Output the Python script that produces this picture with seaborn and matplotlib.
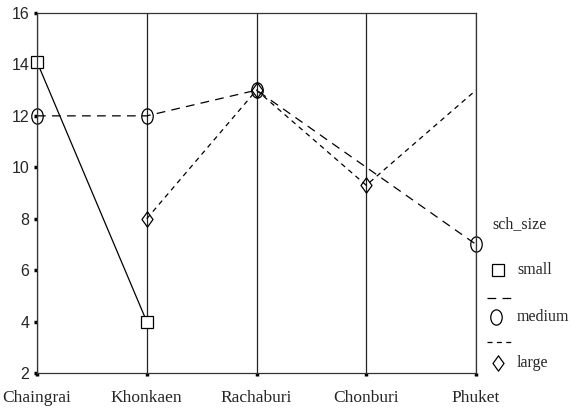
import numpy as np
import pandas as pd
import matplotlib
matplotlib.use("Agg")
import matplotlib.pyplot as plt
from matplotlib.lines import Line2D
from matplotlib.path import Path
import seaborn as sns

# data
cities = ["Chaingrai", "Khonkaen", "Rachaburi", "Chonburi", "Phuket"]
small = [14.1, 4.0, np.nan, np.nan, np.nan]
medium = [12.0, 12.0, 13.0, np.nan, 7.0]
large = [np.nan, 8.0, 13.0, 9.3, 13.0]
y_ticks = [2, 4, 6, 8, 10, 12, 14, 16]

sns.set_theme(style="white")
serif = ["Liberation Serif", "DejaVu Serif"]
sans = ["Liberation Sans", "DejaVu Sans"]

# ellipse and diamond markers, taller than wide, as in the reference
ell = Path.unit_circle()
ellipse = Path(ell.vertices * np.array([0.75, 1.0]), ell.codes)
diamond = Path([(0, 1), (0.72, 0), (0, -1), (-0.72, 0), (0, 1)],
               [Path.MOVETO, Path.LINETO, Path.LINETO, Path.LINETO, Path.CLOSEPOLY])

fig = plt.figure(figsize=(5.88, 4.08), dpi=100)
ax = fig.add_axes([37 / 588, 35 / 408, (476 - 37) / 588, (373 - 13) / 408])

pos = np.arange(len(cities))
df = pd.DataFrame({"x": pos, "small": small, "medium": medium, "large": large})

d = df[["x", "small"]].dropna()
sns.lineplot(data=d, x="x", y="small", ax=ax, color="black", lw=0.9, clip_on=False,
             linestyle="-", marker="s", ms=8, mfc="white", mec="black", mew=0.9)

d = df[["x", "medium"]].dropna()
sns.lineplot(data=d, x="x", y="medium", ax=ax, color="black", lw=0.9, clip_on=False,
             linestyle=(0, (7, 5)), marker=ellipse, ms=11, mfc="none", mec="black", mew=0.9)

d = df[["x", "large"]].dropna()
sns.lineplot(data=d, x="x", y="large", ax=ax, color="black", lw=0.9, clip_on=False,
             linestyle=(0, (4, 3.5)), marker=diamond, ms=11, mfc="none", mec="black", mew=0.9,
             markevery=[0, 1, 2])

ax.set_xlim(0, len(cities) - 1)
ax.set_ylim(2, 16)
ax.set_xticks(pos)
ax.set_xticklabels(cities, fontfamily=serif, fontsize=12.5)
ax.set_yticks(y_ticks)
ax.set_yticklabels([str(t) for t in y_ticks], fontfamily=sans, fontsize=11.5)
ax.set_xlabel("")
ax.set_ylabel("")
ax.tick_params(axis="both", direction="out", length=2.5, width=2.5, color="black",
               bottom=True, left=True)
ax.tick_params(axis="y", pad=3)
ax.tick_params(axis="x", pad=10)
ax.xaxis.grid(True, color="#222222", lw=0.9)
ax.yaxis.grid(False)
for s in ax.spines.values():
    s.set_color("#333333")
    s.set_linewidth(0.9)
if ax.get_legend():
    ax.get_legend().remove()

# legend drawn the way the reference lays it out
def fx(px):
    return px / 588

def fy(py):
    return 1 - py / 408

fs = 11.5
fig.text(fx(492), fy(224), "sch_size", fontfamily=serif, fontsize=fs, va="center")
fig.add_artist(Line2D([fx(498)], [fy(270)], transform=fig.transFigure, marker="s", ms=8,
                      mfc="white", mec="black", mew=0.9, ls="none"))
fig.text(fx(517), fy(270), "small", fontfamily=serif, fontsize=fs, va="center")
fig.add_artist(Line2D([fx(487), fx(513)], [fy(298), fy(298)], transform=fig.transFigure,
                      color="black", lw=0.9, ls=(0, (7, 5))))
fig.add_artist(Line2D([fx(496)], [fy(317)], transform=fig.transFigure, marker=ellipse, ms=11,
                      mfc="none", mec="black", mew=0.9, ls="none"))
fig.text(fx(517), fy(317), "medium", fontfamily=serif, fontsize=fs, va="center")
fig.add_artist(Line2D([fx(487), fx(515)], [fy(342), fy(342)], transform=fig.transFigure,
                      color="black", lw=0.9, ls=(0, (4, 3.5))))
fig.add_artist(Line2D([fx(498)], [fy(363)], transform=fig.transFigure, marker=diamond, ms=11,
                      mfc="none", mec="black", mew=0.9, ls="none"))
fig.text(fx(517), fy(363), "large", fontfamily=serif, fontsize=fs, va="center")

fig.savefig("out.png", dpi=100)
